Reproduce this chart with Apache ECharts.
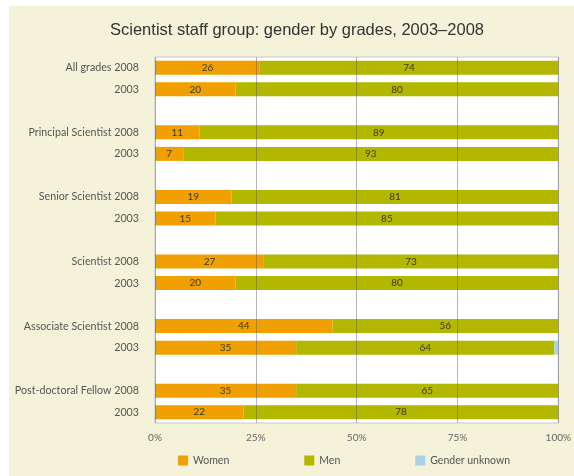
<!DOCTYPE html>
<html>
<head>
<meta charset="utf-8">
<script src="https://cdn.jsdelivr.net/npm/echarts@6/dist/echarts.min.js"></script>
<style>
  html, body { margin: 0; padding: 0; background: #fff; }
  #chart { position: absolute; left: 9px; top: 6px; width: 565px; height: 470px; background: #f4f2d9; }
</style>
</head>
<body>
<div id="chart"></div>
<script>
// rows top to bottom, blank rows are the gaps between grade groups
var categories = ['ag08', 'ag03', 'g1', 'ps08', 'ps03', 'g2', 'ss08', 'ss03', 'g3',
                  'sc08', 'sc03', 'g4', 'as08', 'as03', 'g5', 'pd08', 'pd03'];
var rowLabels = ['All grades 2008', '2003', '', 'Principal Scientist 2008', '2003', '',
                 'Senior Scientist 2008', '2003', '', 'Scientist 2008', '2003', '',
                 'Associate Scientist 2008', '2003', '', 'Post-doctoral Fellow 2008', '2003'];
var women   = [26, 20, null, 11, 7, null, 19, 15, null, 27, 20, null, 44, 35, null, 35, 22];
var men     = [74, 80, null, 89, 93, null, 81, 85, null, 73, 80, null, 56, 64, null, 65, 78];
var unknown = [0, 0, null, 0, 0, null, 0, 0, null, 0, 0, null, 0, 1, null, 0, 0];
var tickValues = [0, 25, 50, 75, 100];

var myChart = echarts.init(document.getElementById('chart'));
var font = 'Lato, "Open Sans", sans-serif';

var option = {
    backgroundColor: '#f4f2d9',
    title: {
        text: 'Scientist staff group: gender by grades, 2003\u20132008',
        left: 283, top: 11,
        textAlign: 'center',
        textStyle: { fontFamily: '"Liberation Sans", Arial, sans-serif', fontSize: 16.5, fontWeight: 'normal', color: '#333' }
    },
    legend: {
        left: 164, top: 444,
        itemWidth: 10, itemHeight: 10, itemGap: 75,
        icon: 'rect',
        textStyle: { fontFamily: font, fontSize: 10.5, color: '#555' },
        data: ['Women', 'Men', 'Gender unknown']
    },
    grid: {
        left: 146, right: 14, top: 51, bottom: 53,
        show: true, backgroundColor: '#fff', borderColor: '#c8c8c8', borderWidth: 1
    },
    xAxis: {
        type: 'value', min: 0, max: 100, interval: 25, z: 5,
        axisLine: { show: false },
        axisTick: { show: false },
        splitLine: { show: true, lineStyle: { color: 'rgba(90,90,100,0.45)', width: 1 } },
        axisLabel: {
            fontFamily: font, fontSize: 10, color: '#666', margin: 10,
            formatter: function (v) { return tickValues.indexOf(v) >= 0 ? v + '%' : ''; }
        }
    },
    yAxis: {
        type: 'category', inverse: true, data: categories,
        axisLine: { show: false },
        axisTick: { show: false },
        axisLabel: {
            fontFamily: font, fontSize: 10.7, color: '#555', margin: 16,
            formatter: function (v, i) { return rowLabels[i]; }
        }
    },
    series: [
        {
            name: 'Women', type: 'bar', stack: 'all', data: women, barWidth: 14,
            itemStyle: { color: '#f0a000' },
            label: { show: true, position: 'inside', fontFamily: font, fontSize: 10, color: '#3a3a1a' }
        },
        {
            name: 'Men', type: 'bar', stack: 'all', data: men, barWidth: 14,
            itemStyle: { color: '#b3b700' },
            label: { show: true, position: 'inside', fontFamily: font, fontSize: 10, color: '#3a3a1a' }
        },
        {
            name: 'Gender unknown', type: 'bar', stack: 'all', data: unknown, barWidth: 14,
            itemStyle: { color: '#a9d3e5' },
            label: { show: false }
        }
    ]
};
myChart.setOption(option);
</script>
</body>
</html>
